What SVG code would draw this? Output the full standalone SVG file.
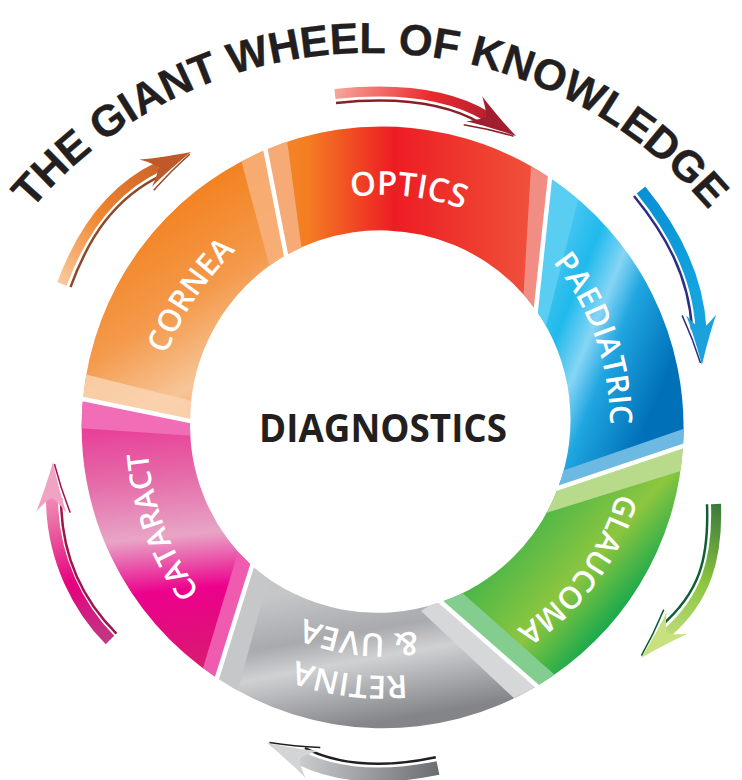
<svg xmlns="http://www.w3.org/2000/svg" width="742" height="780" viewBox="0 0 742 780">
<defs>
<style>
.title{font-family:"Liberation Sans",Arial,sans-serif;font-weight:700;font-size:43.5px;letter-spacing:-0.2px;fill:#231F20;stroke:#231F20;stroke-width:0.3}
.lbl{font-family:"Open Sans","Liberation Sans",sans-serif;font-weight:600;fill:#fff;text-anchor:middle}
.center{font-family:"Open Sans","Liberation Sans",sans-serif;font-weight:700;font-size:40px;fill:#231F20}
.sep{stroke:#fff;stroke-width:4.5;stroke-linecap:butt}
.shaft{fill:none;stroke-linecap:butt}
.dark{fill:none;stroke-width:2.5}
.barb{fill:none;stroke-width:1.5}
</style>
<linearGradient id="gCornea" gradientUnits="userSpaceOnUse" x1="140" y1="220" x2="250" y2="400">
<stop offset="0" stop-color="#F38220"/><stop offset="0.45" stop-color="#F49A4C"/><stop offset="0.8" stop-color="#F7C597"/><stop offset="1" stop-color="#F3A469"/>
</linearGradient>
<linearGradient id="gOptics" gradientUnits="userSpaceOnUse" x1="268" y1="0" x2="548" y2="0">
<stop offset="0" stop-color="#F58A2A"/><stop offset="0.14" stop-color="#F47E22"/><stop offset="0.45" stop-color="#ED1C24"/><stop offset="0.72" stop-color="#EE3A2E"/><stop offset="1" stop-color="#F0573F"/>
</linearGradient>
<linearGradient id="gPaed" gradientUnits="userSpaceOnUse" x1="545" y1="260" x2="690" y2="320">
<stop offset="0" stop-color="#4FC8F2"/><stop offset="0.25" stop-color="#1FBAEC"/><stop offset="0.45" stop-color="#86D5F5"/><stop offset="0.62" stop-color="#20A6E0"/><stop offset="1" stop-color="#0071B9"/>
</linearGradient>
<linearGradient id="gGlauc" gradientUnits="userSpaceOnUse" x1="520" y1="520" x2="655" y2="640">
<stop offset="0" stop-color="#45B549"/><stop offset="0.45" stop-color="#8DC63F"/><stop offset="0.75" stop-color="#1DAA4C"/><stop offset="1" stop-color="#00A651"/>
</linearGradient>
<linearGradient id="gRetina" gradientUnits="userSpaceOnUse" x1="310" y1="590" x2="335" y2="730">
<stop offset="0" stop-color="#C5C6C8"/><stop offset="0.35" stop-color="#A9AAAD"/><stop offset="0.55" stop-color="#D0D1D3"/><stop offset="1" stop-color="#848588"/>
</linearGradient>
<linearGradient id="gCat" gradientUnits="userSpaceOnUse" x1="150" y1="420" x2="175" y2="680">
<stop offset="0" stop-color="#E93C97"/><stop offset="0.22" stop-color="#E56AA8"/><stop offset="0.45" stop-color="#E8A5C6"/><stop offset="0.66" stop-color="#EC008C"/><stop offset="0.85" stop-color="#E0107A"/><stop offset="1" stop-color="#D6206A"/>
</linearGradient>
<linearGradient id="aRed" gradientUnits="userSpaceOnUse" x1="335" y1="94" x2="516" y2="136">
<stop offset="0" stop-color="#F6A59B"/><stop offset="0.5" stop-color="#EC2A2E"/><stop offset="1" stop-color="#9B1B30"/>
</linearGradient>
<linearGradient id="aBlue" gradientUnits="userSpaceOnUse" x1="641" y1="190" x2="702" y2="365">
<stop offset="0" stop-color="#0B8FD3"/><stop offset="0.6" stop-color="#12A4DF"/><stop offset="1" stop-color="#1BA3DC"/>
</linearGradient>
<linearGradient id="aGreen" gradientUnits="userSpaceOnUse" x1="716" y1="504" x2="641" y2="658">
<stop offset="0" stop-color="#3C7A3C"/><stop offset="0.45" stop-color="#8DC63F"/><stop offset="1" stop-color="#D4E69A"/>
</linearGradient>
<linearGradient id="aGray" gradientUnits="userSpaceOnUse" x1="438" y1="768" x2="267" y2="743">
<stop offset="0" stop-color="#6D6E71"/><stop offset="0.5" stop-color="#A7A9AC"/><stop offset="1" stop-color="#E1E2E3"/>
</linearGradient>
<linearGradient id="aPink" gradientUnits="userSpaceOnUse" x1="110" y1="640" x2="53" y2="462">
<stop offset="0" stop-color="#BE3A84"/><stop offset="0.35" stop-color="#E6007E"/><stop offset="0.7" stop-color="#EA6FA6"/><stop offset="1" stop-color="#F4B5CF"/>
</linearGradient>
<linearGradient id="aOrange" gradientUnits="userSpaceOnUse" x1="62" y1="284" x2="191" y2="152">
<stop offset="0" stop-color="#F9C99E"/><stop offset="0.4" stop-color="#F0872F"/><stop offset="1" stop-color="#BE5628"/>
</linearGradient>
<path id="shCornea" d="M83,399 A300,300 0 0 1 265.5,150 L286,255 A192,192 0 0 0 190,421 Z"/>
<path id="shOptics" d="M265.5,150 A300,300 0 0 1 550,178 L536,310 A192,192 0 0 0 286,255 Z"/>
<path id="shPaed" d="M550,178 A300,300 0 0 1 683,446 L558,488 A192,192 0 0 0 536,310 Z"/>
<path id="shGlauc" d="M683,446 A300,300 0 0 1 537,686 L441,602 A192,192 0 0 0 558,488 Z"/>
<path id="shRetina" d="M537,686 A300,300 0 0 1 217,678 L252,566 A192,192 0 0 0 441,602 Z"/>
<path id="shCat" d="M217,678 A300,300 0 0 1 83,399 L190,421 A192,192 0 0 0 252,566 Z"/>
<clipPath id="cpCornea"><use href="#shCornea"/></clipPath>
<clipPath id="cpOptics"><use href="#shOptics"/></clipPath>
<clipPath id="cpPaed"><use href="#shPaed"/></clipPath>
<clipPath id="cpGlauc"><use href="#shGlauc"/></clipPath>
<clipPath id="cpRetina"><use href="#shRetina"/></clipPath>
<clipPath id="cpCat"><use href="#shCat"/></clipPath>
<path id="pTitle" d="M6.3,242.3 A444,444 0 0 1 733.7,242.3" fill="none"/>
<path id="tpOptics" d="M176.6,323.5 A230,230 0 0 1 606.4,370.1" fill="none"/>
<path id="tpCornea" d="M177.2,580 A282,282 0 0 1 448.2,173.6" fill="none"/>
<path id="tpPaed" d="M397.8,169.4 A260,260 0 0 1 547.4,594.2" fill="none"/>
<path id="tpGlauc" d="M586.5,290.3 A244,244 0 0 1 313.7,658.9" fill="none"/>
<path id="tpRetina" d="M606.2,540.7 A251,251 0 0 1 138.4,479.2" fill="none"/>
<path id="tpUvea" d="M569.8,517.7 A208.5,208.5 0 0 1 180.3,474" fill="none"/>
<path id="tpCat" d="M374.9,699.3 A273,273 0 0 1 209.4,256.3" fill="none"/>
<path id="head" d="M0,0 C-12,-3 -34,-9 -50,-15 C-42,-8 -38,-4 -36,0 C-38,4 -42,8 -50,15 C-34,9 -12,3 0,0 Z"/>
<path id="barbLine" d="M-50,19 C-34,12 -14,5 -2,1.5"/>
</defs>
<rect width="742" height="780" fill="#fff"/>

<g id="title">
<text class="title"><textPath href="#pTitle" startOffset="41.2">THE</textPath></text>
<text class="title"><textPath href="#pTitle" startOffset="139.5">GIANT</textPath></text>
<text class="title"><textPath href="#pTitle" startOffset="285.7">WHEEL</textPath></text>
<text class="title"><textPath href="#pTitle" startOffset="453.7">OF</textPath></text>
<text class="title"><textPath href="#pTitle" startOffset="525.6">KNOWLEDGE</textPath></text>
</g>

<g id="node-cornea">
<use href="#shCornea" fill="url(#gCornea)"/>
<g clip-path="url(#cpCornea)">
<polygon points="241,160 263,146 292,256 270,268" fill="#F7B27C" opacity="0.85"/>
<polygon points="78,398 80,373 196,402 196,424" fill="#F9D3B0" opacity="0.85"/>
</g>
<text class="lbl" font-size="31"><textPath href="#tpCornea" startOffset="50%">CORNEA</textPath></text>
</g>

<g id="node-optics">
<use href="#shOptics" fill="url(#gOptics)"/>
<g clip-path="url(#cpOptics)">
<polygon points="262,146 287,140 302,252 284,260" fill="#F6AB77"/>
<polygon points="531,166 555,176 540,314 523,304" fill="#F28D83"/>
</g>
<text class="lbl" font-size="33"><textPath href="#tpOptics" startOffset="50%">OPTICS</textPath></text>
</g>

<g id="node-paediatric">
<use href="#shPaed" fill="url(#gPaed)"/>
<g clip-path="url(#cpPaed)">
<polygon points="548,172 580,192 545,330 530,320" fill="#5ACDF2"/>
<polygon points="692,426 692,448 552,494 556,473" fill="#6DB9E1"/>
</g>
<text class="lbl" font-size="31"><textPath href="#tpPaed" startOffset="50%">PAEDIATRIC</textPath></text>
</g>

<g id="node-glaucoma">
<use href="#shGlauc" fill="url(#gGlauc)"/>
<g clip-path="url(#cpGlauc)">
<polygon points="692,443 690,468 546,513 552,486" fill="#B7DB8A"/>
<polygon points="436,600 459,590 556,676 540,692" fill="#83CE8E"/>
</g>
<text class="lbl" font-size="30.5"><textPath href="#tpGlauc" startOffset="50%">GLAUCOMA</textPath></text>
</g>

<g id="node-retina">
<use href="#shRetina" fill="url(#gRetina)"/>
<g clip-path="url(#cpRetina)">
<polygon points="441,598 421,611 518,702 545,692" fill="#D6D7D9"/>
<polygon points="252,560 270,572 237,694 212,686" fill="#C6C7C9"/>
</g>
<text class="lbl" font-size="32"><textPath href="#tpUvea" startOffset="50%">&amp; UVEA</textPath><textPath href="#tpRetina" startOffset="50%">RETINA</textPath></text>
</g>

<g id="node-cataract">
<use href="#shCat" fill="url(#gCat)"/>
<g clip-path="url(#cpCat)">
<polygon points="78,398 196,421 196,436 78,428" fill="#F16DB6"/>
<polygon points="256,566 238,552 203,668 216,682" fill="#EF5BAE"/>
</g>
<text class="lbl" font-size="30"><textPath href="#tpCat" startOffset="50%">CATARACT</textPath></text>
</g>

<g id="separators">
<line class="sep" x1="263.6" y1="140.2" x2="287.5" y2="262.9"/>
<line class="sep" x1="551" y1="168" x2="535" y2="318"/>
<line class="sep" x1="692.5" y1="442.8" x2="550.4" y2="490.6"/>
<line class="sep" x1="544.5" y1="692.6" x2="435" y2="596.7"/>
<line class="sep" x1="214" y1="687.5" x2="254.4" y2="558.4"/>
<line class="sep" x1="73" y1="397" x2="198" y2="422.6"/>
</g>

<g id="node-diagnostics">
<text class="center" x="383" y="442" text-anchor="middle" textLength="248" lengthAdjust="spacingAndGlyphs">DIAGNOSTICS</text>
</g>

<g id="connectors">
<g id="arrow-red">
<path class="shaft" d="M335,94 Q432,84 486,116" stroke="url(#aRed)" stroke-width="10"/>
<path class="dark" d="M336,103 Q430,93 481.4,123.7" stroke="#8A1F28"/>
<use href="#head" transform="translate(516,136) rotate(33)" fill="#A01E2E"/>
<use href="#barbLine" transform="translate(516,136) rotate(33)" class="barb" stroke="#8A1F28"/>
</g>
<g id="arrow-blue">
<path class="shaft" d="M641,190 C672,228 698,275 701,329" stroke="url(#aBlue)" stroke-width="11"/>
<path class="dark" d="M634,196 C665,234 689,275.5 692,329.5" stroke="#2B2E83"/>
<use href="#head" transform="translate(702,365) rotate(89)" fill="#1BA1DB"/>
<use href="#barbLine" transform="translate(702,365) rotate(89)" class="barb" stroke="#2B2E83"/>
</g>
<g id="arrow-green">
<path class="shaft" d="M716,504 C718,560 705,600 667,633" stroke="url(#aGreen)" stroke-width="10"/>
<path class="dark" d="M707,504.3 C709,560 699,593 661,626" stroke="#0F5E34"/>
<use href="#head" transform="translate(641,658) rotate(136)" fill="#C8E07E"/>
<use href="#barbLine" transform="translate(641,658) rotate(136)" class="barb" stroke="#0F5E34"/>
</g>
<g id="arrow-gray">
<path class="shaft" d="M438,768 Q355,785 300,758" stroke="url(#aGray)" stroke-width="14"/>
<path class="dark" d="M435.8,757.2 Q357,774 304.9,748.1" stroke="#231F20"/>
<use href="#head" transform="translate(267,743) rotate(205.5)" fill="#D3D4D6"/>
<use href="#barbLine" transform="translate(267,743) rotate(205.5)" class="barb" stroke="#231F20"/>
</g>
<g id="arrow-pink">
<path class="shaft" d="M110,640 C80,610 52,560 52,498" stroke="url(#aPink)" stroke-width="12"/>
<path class="dark" d="M116.4,633.6 C86.4,603.6 61,560 61,498" stroke="#A0164C"/>
<use href="#head" transform="translate(53,462) rotate(-88)" fill="#F0A3C4"/>
<use href="#barbLine" transform="translate(53,462) rotate(-88)" class="barb" stroke="#A0164C"/>
</g>
<g id="arrow-orange">
<path class="shaft" d="M62,284 C80,235 110,190 158,167" stroke="url(#aOrange)" stroke-width="10"/>
<path class="dark" d="M70.5,287.1 C88.5,238.1 113.9,198.1 161.9,175.1" stroke="#8C4A2A"/>
<use href="#head" transform="translate(191,152) rotate(-25)" fill="#C0592A"/>
<use href="#barbLine" transform="translate(191,152) rotate(-25)" class="barb" stroke="#8C4A2A"/>
</g>
</g>
</svg>
